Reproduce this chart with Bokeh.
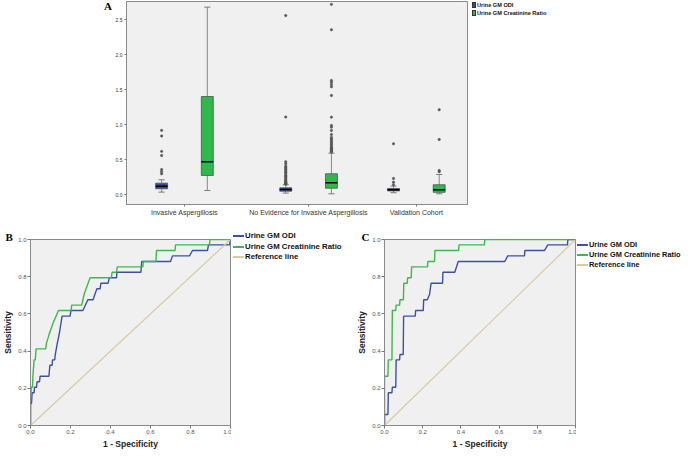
from bokeh.plotting import figure
from bokeh.models import (Range1d, ColumnDataSource, Div, FixedTicker, NumeralTickFormatter)
from bokeh.layouts import column, row
from bokeh.embed import file_html
from bokeh.resources import INLINE

# ---------------- data: panel A (box plots) ----------------
groups = ["Invasive Aspergillosis", "No Evidence for Invasive Aspergillosis", "Validation Cohort"]
series = ["Urine GM ODI", "Urine GM Creatinine Ratio"]
panel_letters = ["A", "B", "C"]

odi_low = [0.038, 0.024, 0.029]
odi_q1 = [0.086, 0.051, 0.055]
odi_med = [0.123, 0.076, 0.070]
odi_q3 = [0.166, 0.099, 0.090]
odi_high = [0.214, 0.143, 0.124]
odi_out_ia = [0.30, 0.33, 0.36, 0.56, 0.62, 0.84, 0.92]
odi_out_ne = [0.150, 0.155, 0.160, 0.165, 0.170, 0.180, 0.190, 0.200, 0.215, 0.230,
              0.250, 0.266, 0.280, 0.300, 0.320, 0.337, 0.355, 0.371, 0.390, 0.409,
              0.443, 0.471, 1.11, 2.56]
odi_out_vc = [0.143, 0.180, 0.233, 0.728]

ratio_low = [0.061, 0.014, 0.014]
ratio_q1 = [0.276, 0.094, 0.035]
ratio_med = [0.471, 0.171, 0.071]
ratio_q3 = [1.404, 0.300, 0.143]
ratio_high = [2.68, 0.594, 0.290]
ratio_out_ia = []
ratio_out_ne = [0.61, 0.62, 0.63, 0.64, 0.65, 0.66, 0.67, 0.68, 0.70, 0.72, 0.74, 0.76,
                0.78, 0.80, 0.82, 0.86, 0.919, 0.966, 0.99, 1.109, 1.419, 1.543, 1.576,
                1.609, 1.633, 2.357, 2.72]
ratio_out_vc = [0.329, 0.347, 0.79, 1.214]

a_ticks = [0.0, 0.5, 1.0, 1.5, 2.0, 2.5]

# ---------------- data: panel B (ROC, study cohort) ----------------
b_odi_fpr = [0, 0, 0.005, 0.008, 0.018, 0.020, 0.030, 0.033, 0.045, 0.048, 0.092, 0.097,
             0.108, 0.110, 0.121, 0.124, 0.134, 0.145, 0.158, 0.198, 0.202, 0.262, 0.287,
             0.313, 0.322, 0.332, 0.348, 0.352, 0.388, 0.394, 0.430, 0.432, 0.552, 0.556,
             0.700, 0.710, 0.795, 0.810, 0.885, 0.890, 0.995, 1.0]
b_odi_tpr = [0, 0.118, 0.118, 0.176, 0.176, 0.206, 0.206, 0.235, 0.235, 0.265, 0.265, 0.324,
             0.324, 0.353, 0.353, 0.382, 0.441, 0.500, 0.588, 0.588, 0.618, 0.618, 0.676,
             0.676, 0.706, 0.735, 0.735, 0.765, 0.765, 0.794, 0.794, 0.824, 0.824, 0.882,
             0.882, 0.912, 0.912, 0.941, 0.941, 0.971, 0.971, 1.0]
b_ratio_fpr = [0, 0, 0.004, 0.010, 0.012, 0.018, 0.024, 0.028, 0.076, 0.079, 0.088, 0.096,
               0.106, 0.116, 0.128, 0.140, 0.203, 0.206, 0.256, 0.262, 0.268, 0.278, 0.288,
               0.298, 0.404, 0.408, 0.430, 0.434, 0.562, 0.564, 0.627, 0.630, 0.723, 0.725,
               0.895, 0.897, 1.0]
b_ratio_tpr = [0, 0.12, 0.206, 0.206, 0.265, 0.353, 0.353, 0.412, 0.412, 0.441, 0.471, 0.500,
               0.529, 0.559, 0.588, 0.618, 0.618, 0.647, 0.647, 0.676, 0.706, 0.735, 0.765,
               0.794, 0.794, 0.824, 0.824, 0.853, 0.853, 0.882, 0.882, 0.941, 0.941, 0.971,
               0.971, 1.0, 1.0]

# ---------------- data: panel C (ROC, validation cohort) ----------------
c_odi_fpr = [0, 0, 0.018, 0.020, 0.039, 0.041, 0.059, 0.061, 0.079, 0.081, 0.098, 0.100,
             0.161, 0.163, 0.203, 0.205, 0.224, 0.236, 0.244, 0.304, 0.306, 0.368, 0.386,
             0.630, 0.645, 0.733, 0.735, 0.838, 0.855, 0.958, 0.960, 1.0]
c_odi_tpr = [0, 0.059, 0.059, 0.176, 0.176, 0.206, 0.206, 0.353, 0.353, 0.382, 0.382, 0.588,
             0.588, 0.618, 0.618, 0.676, 0.676, 0.706, 0.765, 0.765, 0.824, 0.824, 0.882,
             0.882, 0.912, 0.912, 0.941, 0.941, 0.971, 0.971, 1.0, 1.0]
c_ratio_fpr = [0, 0, 0.018, 0.020, 0.039, 0.041, 0.059, 0.061, 0.079, 0.081, 0.099, 0.101,
               0.119, 0.121, 0.140, 0.142, 0.225, 0.227, 0.262, 0.264, 0.388, 0.390, 0.523,
               0.525, 1.0]
c_ratio_tpr = [0, 0.265, 0.265, 0.353, 0.353, 0.618, 0.618, 0.647, 0.647, 0.676, 0.676, 0.765,
               0.765, 0.794, 0.794, 0.853, 0.853, 0.882, 0.882, 0.941, 0.941, 0.971, 0.971,
               1.0, 1.0]

ref_x = [0.0, 1.0]
ref_y = [0.0, 1.0]
roc_ticks = [0.0, 0.2, 0.4, 0.6, 0.8, 1.0]
roc_labels = ["Urine GM ODI", "Urine GM Creatinine Ratio", "Reference line"]

# ---------------- styles / layout constants ----------------
BLUE_BOX = "#2f4b9c"
GREEN_BOX = "#2fb84c"
BLUE_LINE = "#3b51a3"
GREEN_LINE = "#3cb94a"
REF_LINE = "#d6cc9c"
BG = "#f0f0f0"
FRAME = "#8a8a8a"
SANS = "Liberation Sans"
SERIF = "Liberation Serif"

GROUP_X = [17.0, 53.4, 85.0]
OFFSET = 6.7
BOX_W = 3.5
CAP_W = 1.8


def box_legend_div(width, colors, labels, pad_left, pad_top):
    rows = []
    for c, lab in zip(colors, labels):
        rows.append('<div style="white-space:nowrap;height:8px;line-height:8px;">'
                    '<span style="display:inline-block;width:4px;height:6px;background:%s;'
                    'border:0.5px solid #333;vertical-align:middle;margin-right:1px;"></span>'
                    '<span style="vertical-align:middle;">%s</span></div>' % (c, lab))
    html = ('<div style="font-family:\'%s\';font-weight:bold;font-size:5.6px;color:#111;'
            'padding-left:%dpx;padding-top:%dpx;">%s</div>' % (SANS, pad_left, pad_top, "".join(rows)))
    return Div(text=html, width=width, height=24, margin=0)


def line_legend_div(width, colors, labels, font_px, row_px, pad_left, pad_top):
    rows = []
    for c, lab in zip(colors, labels):
        rows.append('<div style="white-space:nowrap;height:%spx;line-height:%spx;">'
                    '<span style="display:inline-block;width:11px;height:2px;background-color:%s;'
                    'vertical-align:middle;margin-right:1px;"></span>'
                    '<span style="vertical-align:middle;">%s</span></div>' % (row_px, row_px, c, lab))
    html = ('<div style="font-family:\'%s\';font-weight:bold;font-size:%spx;color:#111;'
            'padding-left:%dpx;padding-top:%dpx;">%s</div>'
            % (SANS, font_px, pad_left, pad_top, "".join(rows)))
    return Div(text=html, width=width, height=60, margin=0)


# ================= Panel A =================
divA = Div(text=panel_letters[0], width=112, height=20, margin=0,
           styles={"font-family": SERIF, "font-weight": "bold", "font-size": "11px",
                   "line-height": "11px", "text-align": "right", "color": "black",
                   "padding-top": "1px"})

pA = figure(width=356, height=220, x_range=Range1d(0, 100), y_range=Range1d(-0.139, 2.761),
            min_border_left=14, min_border_right=1, min_border_top=1, min_border_bottom=16,
            output_backend="svg", toolbar_location=None)
pA.background_fill_color = BG
pA.border_fill_color = "white"
pA.outline_line_color = FRAME
pA.xgrid.visible = False
pA.ygrid.visible = False

def draw_series(p, offset, low, q1, med, q3, high, outs, color):
    xs = [g + offset for g in GROUP_X]
    src = ColumnDataSource(dict(x=xs, low=low, q1=q1, med=med, q3=q3, high=high,
                                xl=[x - BOX_W / 2 for x in xs], xr=[x + BOX_W / 2 for x in xs],
                                cl=[x - CAP_W / 2 for x in xs], cr=[x + CAP_W / 2 for x in xs]))
    p.segment(x0="x", y0="q3", x1="x", y1="high", source=src, line_color="#8a8a8a", line_width=1)
    p.segment(x0="x", y0="low", x1="x", y1="q1", source=src, line_color="#8a8a8a", line_width=1)
    p.segment(x0="cl", y0="high", x1="cr", y1="high", source=src, line_color="#7a7a7a", line_width=1)
    p.segment(x0="cl", y0="low", x1="cr", y1="low", source=src, line_color="#7a7a7a", line_width=1)
    p.vbar(x="x", width=BOX_W, bottom="q1", top="q3", source=src, fill_color=color,
           line_color="#505050", line_width=0.8)
    p.segment(x0="xl", y0="med", x1="xr", y1="med", source=src, line_color="black", line_width=1.5)
    ox, oy = [], []
    for xv, lst in zip(xs, outs):
        ox += [xv] * len(lst)
        oy += lst
    p.scatter(ox, oy, marker="circle", size=2.4, fill_color="#555555", line_color="#555555",
              line_width=0.5)

draw_series(pA, -OFFSET, odi_low, odi_q1, odi_med, odi_q3, odi_high,
            [odi_out_ia, odi_out_ne, odi_out_vc], BLUE_BOX)
draw_series(pA, OFFSET, ratio_low, ratio_q1, ratio_med, ratio_q3, ratio_high,
            [ratio_out_ia, ratio_out_ne, ratio_out_vc], GREEN_BOX)

pA.yaxis.ticker = FixedTicker(ticks=a_ticks)
pA.yaxis.formatter = NumeralTickFormatter(format="0.0")
pA.xaxis.ticker = FixedTicker(ticks=GROUP_X)
pA.xaxis.major_label_overrides = {gx: name for gx, name in zip(GROUP_X, groups)}
for ax in (pA.xaxis[0], pA.yaxis[0]):
    ax.axis_line_color = FRAME
    ax.major_tick_line_color = "#777777"
    ax.major_tick_out = 2
    ax.major_tick_in = 0
    ax.minor_tick_line_color = None
    ax.major_label_text_font = SANS
    ax.major_label_text_color = "#333333"
    ax.major_label_standoff = 2
pA.yaxis.major_label_text_font_size = "5px"
pA.xaxis.major_label_text_font_size = "7px"

legA = box_legend_div(212, [BLUE_BOX, GREEN_BOX], series, 4, 0)

# ================= ROC panels =================
def roc_fig(width, height, left, right, top, bottom, letter, letter_offset):
    p = figure(width=width, height=height, x_range=Range1d(0, 1), y_range=Range1d(0, 1),
               min_border_left=left, min_border_right=right, min_border_top=top,
               min_border_bottom=bottom, output_backend="svg", toolbar_location=None,
               title=letter)
    p.title.align = "left"
    p.title.offset = letter_offset
    p.title.text_font = SERIF
    p.title.text_font_size = "11px"
    p.title.text_font_style = "bold"
    p.title.text_color = "black"
    try:
        p.title.standoff = -7
    except Exception:
        p.title.standoff = 0
    p.background_fill_color = BG
    p.border_fill_color = "white"
    p.outline_line_color = FRAME
    p.xgrid.visible = False
    p.ygrid.visible = False
    for ax in (p.xaxis[0], p.yaxis[0]):
        ax.ticker = FixedTicker(ticks=roc_ticks)
        ax.formatter = NumeralTickFormatter(format="0.0")
        ax.axis_line_color = FRAME
        ax.major_tick_line_color = "#777777"
        ax.major_tick_out = 3
        ax.major_tick_in = 0
        ax.minor_tick_line_color = None
        ax.major_label_text_font = SANS
        ax.major_label_text_font_size = "6px"
        ax.major_label_text_color = "#555555"
        ax.major_label_standoff = 1
        ax.axis_label_text_font = SANS
        ax.axis_label_text_font_size = "8.5px"
        ax.axis_label_text_font_style = "bold"
        ax.axis_label_text_color = "#222222"
        ax.axis_label_standoff = 2
    p.xaxis.axis_label = "1 - Specificity"
    p.yaxis.axis_label = "Sensitivity"
    return p

def roc_draw(p, fpr1, tpr1, fpr2, tpr2):
    p.line(fpr1, tpr1, line_color=BLUE_LINE, line_width=1.4)
    p.line(fpr2, tpr2, line_color=GREEN_LINE, line_width=1.4)
    p.line(ref_x, ref_y, line_color=REF_LINE, line_width=1.2)

pB = roc_fig(231, 231, 28, 1, 14, 24, panel_letters[1], -25)
roc_draw(pB, b_odi_fpr, b_odi_tpr, b_ratio_fpr, b_ratio_tpr)
legB = line_legend_div(112, [BLUE_LINE, GREEN_LINE, REF_LINE], roc_labels, 7.8, 10.5, 2, 11)

pC = roc_fig(233, 231, 41, 1, 19, 24, panel_letters[2], -23)
roc_draw(pC, c_odi_fpr, c_odi_tpr, c_ratio_fpr, c_ratio_tpr)
legC = line_legend_div(104, [BLUE_LINE, GREEN_LINE, REF_LINE], roc_labels, 7.4, 10, 1, 20)

layout = column(row(divA, pA, legA), row(pB, legB, pC, legC))
open("out.html", "w").write(file_html(layout, INLINE))
